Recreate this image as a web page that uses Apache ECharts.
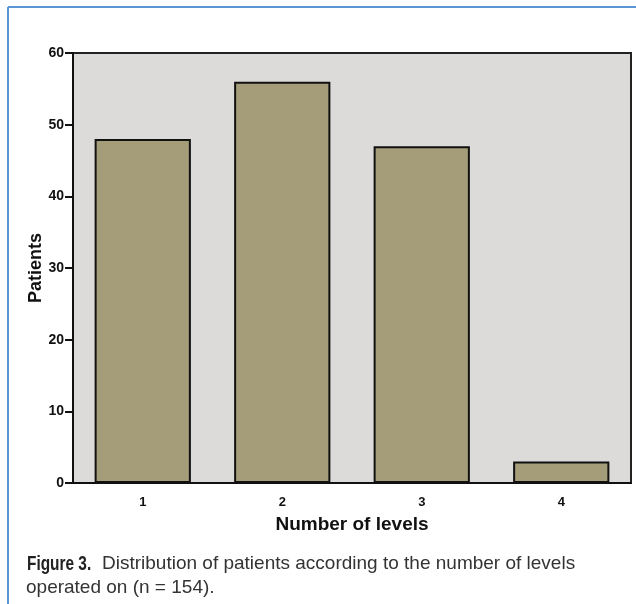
<!DOCTYPE html>
<html>
<head>
<meta charset="utf-8">
<script src="https://cdn.jsdelivr.net/npm/echarts@6/dist/echarts.min.js"></script>
<style>
html,body{margin:0;padding:0;background:#fff;}
#chart{width:636px;height:604px;}
</style>
</head>
<body>
<div id="chart"></div>
<script>
const categories = ['1', '2', '3', '4'];
const patients = [48, 56, 47, 3];
const yTicks = { min: 0, max: 60, interval: 10 };
const xTitle = 'Number of levels';
const yTitle = 'Patients';
const captionBold = 'Figure 3.';
const captionLine1 = 'Distribution of patients according to the number of levels';
const captionLine2 = 'operated on (n = 154).';

const chart = echarts.init(document.getElementById('chart'), null, { renderer: 'canvas' });
const font = 'Arial, "Liberation Sans", Helvetica, sans-serif';
chart.setOption({
  animation: false,
  backgroundColor: '#ffffff',
  grid: {
    left: 73, top: 53, right: 5, bottom: 121,
    show: true, backgroundColor: '#dcdbda', borderColor: '#222', borderWidth: 2
  },
  xAxis: {
    type: 'category',
    data: categories,
    name: xTitle,
    nameLocation: 'middle',
    nameGap: 32,
    nameMoveOverlap: false,
    nameTextStyle: { fontFamily: font, fontWeight: 'bold', fontSize: 19, color: '#111' },
    axisLine: { lineStyle: { color: '#111', width: 2 } },
    axisTick: { alignWithLabel: true, length: 9, lineStyle: { color: '#111', width: 2 } },
    axisLabel: { fontFamily: font, fontWeight: 'bold', fontSize: 13, color: '#111', margin: 13 },
    splitLine: { show: false }
  },
  yAxis: {
    type: 'value',
    min: yTicks.min, max: yTicks.max, interval: yTicks.interval,
    name: yTitle,
    nameLocation: 'middle',
    nameGap: 28,
    nameMoveOverlap: false,
    nameTextStyle: { fontFamily: font, fontWeight: 'bold', fontSize: 18, color: '#111' },
    axisLine: { show: true, lineStyle: { color: '#111', width: 2 } },
    axisTick: { show: true, length: 8, lineStyle: { color: '#111', width: 2 } },
    axisLabel: { fontFamily: font, fontWeight: 'bold', fontSize: 14, color: '#111', margin: 9 },
    splitLine: { show: false }
  },
  series: [{
    type: 'bar',
    data: patients,
    barWidth: '69%',
    itemStyle: { color: '#a59d79', borderColor: '#111', borderWidth: 2 }
  }],
  graphic: [
    { type: 'line', shape: { x1: 8, y1: 7, x2: 636, y2: 7 }, style: { stroke: '#5b95d3', lineWidth: 2 } },
    { type: 'line', shape: { x1: 8, y1: 7, x2: 8, y2: 604 }, style: { stroke: '#5b95d3', lineWidth: 2 } },
    {
      type: 'text', x: 27, y: 554, scaleX: 0.77,
      style: { text: captionBold, fontFamily: font, fontWeight: 'bold', fontSize: 20, fill: '#222' }
    },
    {
      type: 'text', x: 102, y: 554,
      style: { text: captionLine1, fontFamily: font, fontSize: 19, fill: '#333' }
    },
    {
      type: 'text', x: 26, y: 578,
      style: { text: captionLine2, fontFamily: font, fontSize: 19, fill: '#333' }
    }
  ]
});
</script>
</body>
</html>
